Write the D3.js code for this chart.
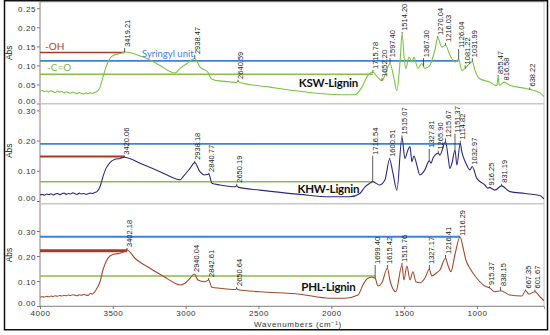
<!DOCTYPE html>
<html>
<head>
<meta charset="utf-8">
<script src="https://cdn.jsdelivr.net/npm/d3@7"></script>
<style>
body { margin: 0; background: #fff; }
svg { display: block; }
</style>
</head>
<body>
<div id="chart"></div>
<script>
// spectra: [wavenumber, abs]
const kswData = [[4000,.032],[3985,.034],[3970,.031],[3955,.033],[3940,.030],[3925,.034],[3910,.031],[3895,.029],[3880,.033],[3865,.030],[3850,.032],[3835,.028],[3820,.031],[3805,.029],[3790,.027],[3775,.030],[3760,.028],[3745,.026],[3730,.029],[3715,.027],[3700,.025],[3685,.028],[3670,.026],[3655,.028],[3640,.027],[3625,.029],[3610,.031],[3598,.036],
  [3588,.043],[3568,.069],[3547,.096],[3520,.118],[3499,.126],[3451,.131],[3419,.135],[3293,.122],[3176,.100],[3108,.084],[3073,.080],[3039,.092],[2991,.105],[2938,.118],[2902,.096],[2847,.082],[2826,.066],[2799,.061],[2700,.057],[2650,.055],[2640,.058],[2630,.055],[2421,.043],[2216,.032],[1941,.023],[1838,.023],[1790,.043],[1749,.074],[1715,.082],[1680,.068],[1652,.060],[1632,.074],[1597,.105],[1575,.075],[1550,.034],[1530,.100],[1514,.183],[1500,.120],[1488,.092],[1467,.122],[1447,.109],[1433,.122],[1406,.092],[1378,.105],[1358,.092],[1323,.100],[1303,.122],[1289,.140],[1270,.173],[1241,.148],[1216,.153],[1186,.127],[1152,.109],[1126,.116],[1104,.087],[1081,.092],[1063,.100],[1032,.110],[1014,.087],[980,.065],[911,.056],[870,.047],[863,.048],[855,.071],[848,.050],[843,.048],[816,.056],[774,.048],[671,.040],[638,.037],[568,.028],[540,.018]];

const khwData = [[4000,.020],[3985,.022],[3970,.019],[3955,.023],[3940,.021],[3925,.024],[3910,.020],[3895,.023],[3880,.025],[3865,.021],[3850,.024],[3835,.026],[3820,.022],[3805,.025],[3790,.023],[3775,.027],[3760,.024],[3745,.022],[3730,.026],[3715,.023],[3700,.025],[3685,.022],[3670,.024],[3655,.026],[3640,.025],[3625,.028],[3609,.031],
  [3588,.047],[3568,.080],[3547,.108],[3520,.127],[3485,.138],[3451,.141],[3420,.145],[3314,.125],[3176,.097],[3087,.077],[3039,.070],[3019,.080],[2970,.108],[2938,.127],[2902,.097],[2868,.086],[2841,.089],[2820,.059],[2765,.053],[2660,.047],[2650,.050],[2640,.046],[2490,.036],[2216,.022],[2010,.014],[1872,.014],[1804,.025],[1769,.047],[1735,.059],[1716,.064],[1667,.053],[1632,.070],[1600,.138],[1577,.092],[1550,.036],[1515,.211],[1495,.141],[1474,.169],[1460,.180],[1447,.130],[1433,.149],[1413,.119],[1392,.086],[1358,.103],[1328,.133],[1315,.125],[1303,.141],[1266,.158],[1255,.152],[1216,.196],[1200,.152],[1186,.108],[1172,.125],[1151,.169],[1138,.119],[1115,.191],[1104,.163],[1076,.125],[1049,.103],[1033,.114],[1001,.075],[946,.053],[925,.042],[916,.045],[877,.036],[831,.050],[774,.031],[671,.025],[568,.018],[540,.007]];

const phlData = [[4000,.035],[3985,.037],[3970,.036],[3955,.039],[3940,.037],[3925,.040],[3910,.038],[3895,.041],[3880,.039],[3865,.042],[3850,.040],[3835,.043],[3820,.041],[3805,.044],[3790,.042],[3775,.045],[3760,.043],[3745,.041],[3730,.045],[3715,.043],[3700,.047],[3685,.044],[3670,.042],[3655,.050],[3640,.048],[3625,.056],[3609,.071],
  [3588,.097],[3568,.144],[3547,.177],[3520,.200],[3485,.208],[3451,.211],[3423,.217],[3402,.224],[3348,.191],[3245,.151],[3142,.115],[3073,.091],[3039,.084],[3005,.091],[2970,.111],[2940,.128],[2916,.104],[2868,.097],[2842,.104],[2820,.075],[2765,.071],[2660,.066],[2650,.069],[2640,.065],[2490,.057],[2216,.047],[2010,.031],[1907,.031],[1817,.044],[1783,.084],[1749,.111],[1721,.115],[1699,.111],[1680,.080],[1653,.093],[1615,.151],[1598,.104],[1557,.057],[1515,.164],[1502,.104],[1481,.160],[1460,.104],[1440,.137],[1419,.097],[1392,.093],[1358,.111],[1327,.147],[1310,.120],[1282,.131],[1255,.144],[1216,.191],[1200,.164],[1179,.137],[1152,.204],[1116,.277],[1097,.237],[1076,.184],[1049,.151],[1001,.111],[946,.080],[915,.073],[877,.057],[838,.061],[774,.044],[692,.040],[667,.061],[644,.048],[602,.057],[568,.037],[540,.021]];

// peak labels: [wavenumber, text, abs level where the label starts]
const kswLabels = [[3419,"3419.21",.146],[2938,"2938.47",.127],[2640,"2640.59",.062],[1715,"1715.78",.088],[1652,"1652.20",.067],[1597,"1597.40",.119],[1514,"1514.20",.188],[1367,"1367.30",.119],[1270,"1270.04",.177],[1216,"1216.03",.159],[1126,"1126.04",.143],[1081,"1081.22",.100],[1032,"1031.99",.119],[855,"855.47",.075],[816,"816.58",.058],[638,"638.22",.042]];
const khwLabels = [[3420,"3420.06",.150],[2938,"2938.18",.133],[2841,"2840.77",.093],[2650,"2650.19",.057],[1716,"1716.54",.150],[1600,"1600.51",.143],[1515,"1515.07",.217],[1328,"1327.81",.173],[1266,"1265.90",.167],[1216,"1215.67",.207],[1151,"1151.37",.223],[1115,"1114.82",.200],[1033,"1032.97",.117],[916,"916.25",.048],[831,"831.19",.057]];
const phlLabels = [[3402,"3402.18",.232],[2940,"2940.04",.132],[2842,"2842.61",.112],[2650,"2650.64",.076],[1699,"1699.40",.164],[1615,"1615.42",.164],[1515,"1515.76",.172],[1327,"1327.17",.164],[1216,"1216.41",.204],[1116,"1116.29",.276],[915,"915.37",.080],[838,"838.15",.076],[667,"667.35",.066],[602,"601.67",.066]];

// reference lines: [kind, abs, wavenumber where the line ends]
const kswLines = [["oh",.134,3419],["syr",.112,1126],["co",.077,1715]];
const khwLines = [["oh",.147,3420],["syr",.189,1115],["co",.064,1716]];
const phlLines = [["oh",.221,3402],["syr",.277,1116],["co",.120,1699]];

const kswTicks = [0,.05,.10,.15,.20,.25];
const khwTicks = [0,.10,.20,.30];
const phlTicks = [0,.10,.20,.30];
const xTicks = [4000,3500,3000,2500,2000,1500,1000];

const width = 550, height = 335;
const lineColor = { oh: "#a63a2a", syr: "#3f80d8", co: "#8cbd45" };

const svg = d3.select("#chart").append("svg")
    .attr("width", width).attr("height", height)
    .attr("viewBox", `0 0 ${width} ${height}`);

const x = d3.scaleLinear().domain([4000, 540]).range([40, 544]);

svg.append("clipPath").attr("id", "plotclip")
  .append("rect").attr("x", 40).attr("y", 0).attr("width", 504).attr("height", 310);

const panels = [
  { data: kswData, labels: kswLabels, lines: kswLines, ticks: kswTicks, name: "KSW-Lignin",
    color: "#76c442", top: 2, bottom: 103.5, domain: [0, .2664], ohWidth: 1.6, nameY: .043 },
  { data: khwData, labels: khwLabels, lines: khwLines, ticks: khwTicks, name: "KHW-Lignin",
    color: "#2b2a7e", top: 104, bottom: 203.5, domain: [-.0083, .3212], ohWidth: 2, nameY: .026 },
  { data: phlData, labels: phlLabels, lines: phlLines, ticks: phlTicks, name: "PHL-Lignin",
    color: "#a24a2b", top: 204, bottom: 306, domain: [0, .408], ohWidth: 3, nameY: .06 }
];

panels.forEach((p, i) => {
  const y = d3.scaleLinear().domain(p.domain).range([p.bottom, p.top]);
  const g = svg.append("g");

  // panel frame
  g.append("rect")
    .attr("x", 40).attr("y", p.top)
    .attr("width", 504).attr("height", p.bottom - p.top)
    .attr("fill", "none").attr("stroke", "#c8c8c8").attr("stroke-width", 1);

  // y axis
  const yAxis = g.append("g")
    .attr("transform", "translate(40,0)")
    .call(d3.axisLeft(y).tickValues(p.ticks).tickSize(3).tickFormat(d3.format(".2f")));
  yAxis.select(".domain").remove();
  yAxis.selectAll(".tick line").attr("stroke", "#777");
  yAxis.selectAll(".tick text")
    .attr("font-family", "Liberation Sans, Arial, sans-serif")
    .attr("font-size", 8).attr("fill", "#333")
    .attr("letter-spacing", 0.6)
    .attr("dy", d => d === 0 ? -0.5 : 3)
    .attr("x", -4);
  g.append("line")
    .attr("x1", 40).attr("x2", 40).attr("y1", p.top).attr("y2", p.bottom)
    .attr("stroke", "#a99").attr("stroke-width", 1);

  g.append("text")
    .attr("transform", `translate(12,${(p.top + p.bottom) / 2 - (i === 1 ? 3 : 0)}) rotate(-90)`)
    .attr("text-anchor", "middle")
    .attr("font-family", "Liberation Sans, Arial, sans-serif")
    .attr("font-size", 8.5).attr("fill", "#222")
    .text("Abs");

  // reference lines
  p.lines.forEach(([kind, v, end]) => {
    g.append("line")
      .attr("x1", 40).attr("x2", x(end))
      .attr("y1", y(v)).attr("y2", y(v))
      .attr("stroke", lineColor[kind])
      .attr("stroke-width", kind === "oh" ? p.ohWidth : kind === "syr" ? 1.8 : 1.5);
  });

  // spectrum
  const line = d3.line()
    .x(d => x(d[0])).y(d => y(d[1]))
    .curve(d3.curveMonotoneX);
  g.append("path")
    .datum(p.data)
    .attr("clip-path", "url(#plotclip)")
    .attr("fill", "none")
    .attr("stroke", p.color)
    .attr("stroke-width", 1.1)
    .attr("d", line);

  // peak labels
  const interp = w => {
    const idx = p.data.findIndex(d => d[0] <= w);
    if (idx <= 0) return p.data[0][1];
    const a = p.data[idx - 1], b = p.data[idx];
    return a[1] + (b[1] - a[1]) * (a[0] - w) / (a[0] - b[0]);
  };
  p.labels.forEach(([w, txt, level]) => {
    const px = x(w);
    const curveY = y(interp(w));
    const labY = y(level);
    if (curveY - labY > 1) {
      g.append("line")
        .attr("x1", px).attr("x2", px)
        .attr("y1", curveY).attr("y2", labY)
        .attr("stroke", "#333").attr("stroke-width", 0.8);
    }
    g.append("text")
      .attr("transform", `translate(${px + 5},${labY - 1}) rotate(-90)`)
      .attr("font-family", "Liberation Sans, Arial, sans-serif")
      .attr("font-size", 7.5).attr("fill", "#222")
      .text(txt);
  });

  // sample name
  g.append("text")
    .attr("x", x(2020)).attr("y", y(p.nameY))
    .attr("text-anchor", "middle")
    .attr("font-family", "Lato, sans-serif")
    .attr("font-weight", "bold")
    .attr("font-size", 11.5).attr("fill", "#111")
    .attr("letter-spacing", -0.2)
    .text(p.name);

  // legend texts only in first panel
  if (i === 0) {
    const [oh, syr, co] = p.lines;
    g.append("text").attr("x", 45).attr("y", y(oh[1]) - 2.5)
      .attr("font-family", "Lato, sans-serif").attr("font-size", 10)
      .attr("fill", "#b5402b").text("-OH");
    g.append("text").attr("x", 47).attr("y", y(co[1]) - 3)
      .attr("font-family", "Lato, sans-serif").attr("font-size", 10)
      .attr("fill", "#86b840").text("-C=O");
    g.append("text").attr("x", 142).attr("y", y(syr[1]) - 4)
      .attr("font-family", "Lato, sans-serif").attr("font-size", 9.5)
      .attr("fill", "#3f80d8").text("Syringyl unit");
  }

  // x axis on last panel
  if (i === panels.length - 1) {
    const xAxis = g.append("g")
      .attr("transform", `translate(0,${p.bottom})`)
      .call(d3.axisBottom(x).tickValues(xTicks).tickSize(3).tickFormat(d3.format("d")));
    xAxis.select(".domain").attr("stroke", "#999");
    xAxis.selectAll(".tick line").attr("stroke", "#777");
    xAxis.selectAll(".tick text")
      .attr("font-family", "Liberation Sans, Arial, sans-serif")
      .attr("font-size", 8).attr("fill", "#333")
      .attr("letter-spacing", 0.5)
      .attr("dy", "0.55em");
  }
});

svg.append("text")
  .attr("x", 298).attr("y", 327)
  .attr("text-anchor", "middle")
  .attr("font-family", "Liberation Sans, Arial, sans-serif")
  .attr("font-size", 8).attr("fill", "#333")
  .attr("letter-spacing", 0.7)
  .text("Wavenumbers (cm\u207B\u00B9)");

// outer frame
svg.append("rect")
  .attr("x", 4.5).attr("y", 0.75)
  .attr("width", 543).attr("height", 329)
  .attr("fill", "none").attr("stroke", "#111").attr("stroke-width", 1.5);
</script>
</body>
</html>
